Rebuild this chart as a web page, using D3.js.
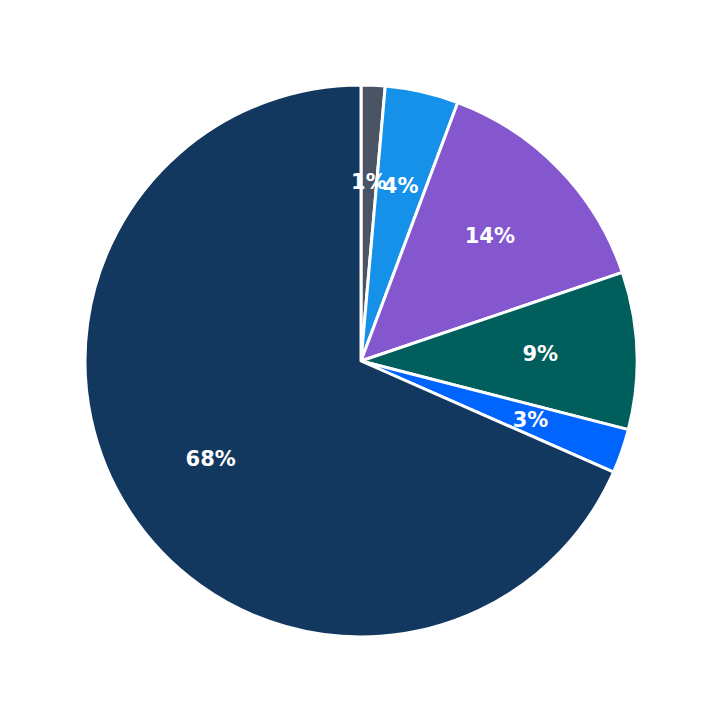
<!DOCTYPE html>
<html><head><script src="https://cdn.jsdelivr.net/npm/d3@7"></script>
<style>body{margin:0;background:#fff}</style></head><body>
<svg id="c" width="723" height="723"></svg>
<script>
const categories=["A","B","C","D","E","F"];
const values=[1.4,4.3,14.1,9.2,2.6,68.4];
const labels=["1%","4%","14%","9%","3%","68%"];
const colors=["#4a5464","#1591ea","#8457cf","#005e5d","#0064ff","#13385f"];
const svg=d3.select("#c"),cx=361,cy=361,R=276;
const g=svg.append("g").attr("transform",`translate(${cx},${cy})`);
const pie=d3.pie().sort(null).value(d=>d)(values);
const arc=d3.arc().innerRadius(0).outerRadius(R);
const la=d3.arc().innerRadius(R*0.65).outerRadius(R*0.65);
g.selectAll("path").data(pie).join("path").attr("d",arc)
 .attr("fill",(d,i)=>colors[i]).attr("stroke","#fff").attr("stroke-width",3).attr("stroke-linejoin","round");
g.selectAll("text").data(pie).join("text").attr("transform",d=>`translate(${la.centroid(d)})`)
 .attr("text-anchor","middle").attr("dominant-baseline","central")
 .attr("fill","#fff").attr("font-family","DejaVu Sans").attr("font-weight","bold").attr("font-size",21)
 .text((d,i)=>labels[i]);
</script></body></html>
